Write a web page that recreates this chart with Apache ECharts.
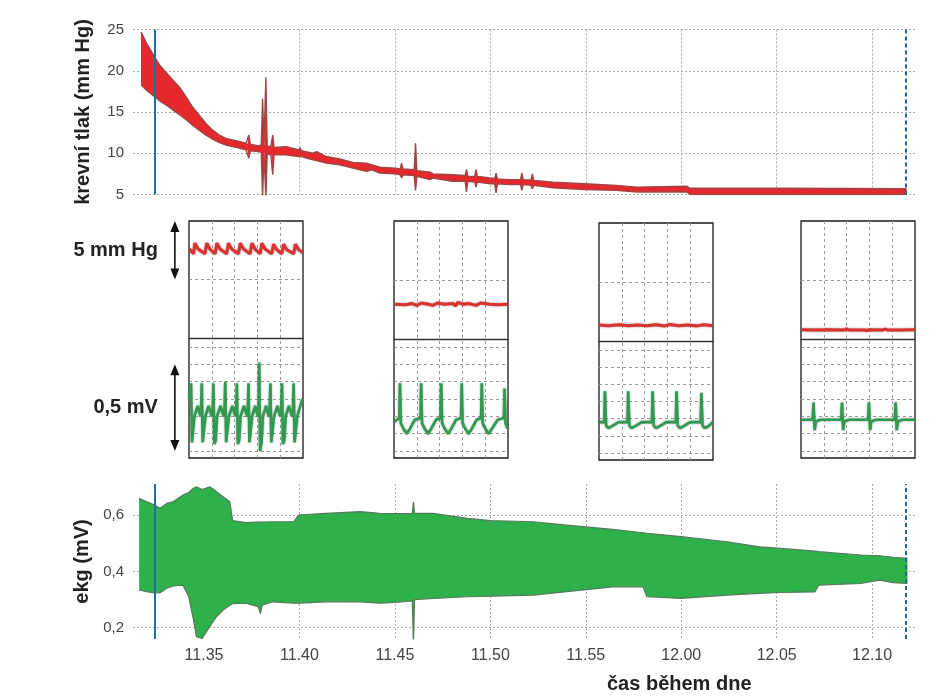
<!DOCTYPE html>
<html><head><meta charset="utf-8">
<script src="https://cdn.jsdelivr.net/npm/echarts@6/dist/echarts.min.js"></script>
<style>html,body{margin:0;padding:0;background:#fff}#c{width:939px;height:696px}</style>
</head><body><div id="c"></div>
<script>
// ---- axis ticks (minutes after 11:00) ----
const timeTicks = [35, 40, 45, 50, 55, 60, 65, 70];
const timeTickLabels = ['11.35', '11.40', '11.45', '11.50', '11.55', '12.00', '12.05', '12.10'];
const timeGridLines = [40, 45, 50, 55, 60, 65, 70];
const ekgTicks = [0.2, 0.4, 0.6];
const markerStart = 32.4;
const markerEnd = 71.75;

// ---- blood pressure envelope (mm Hg) ----
const pressureTime = [31.7,32.0,32.4,32.7,33.05,33.4,33.75,34.1,34.4,34.75,35.1,35.45,35.8,36.15,36.5,36.9,37.2,37.28,37.35,37.42,37.5,37.85,38.0,38.07,38.14,38.17,38.24,38.31,38.5,38.53,38.6,38.67,39.3,39.97,40.03,40.1,40.7,40.9,41.4,42.1,42.8,43.5,43.8,44.2,45.0,45.28,45.35,45.42,46.01,46.08,46.15,46.85,47.0,48.0,48.68,48.75,48.82,49.18,49.25,49.32,50.0,50.23,50.3,50.37,51.0,51.58,51.65,51.72,52.13,52.2,52.27,53.3,54.9,56.6,57.7,60.3,60.45,65.0,71.8];
const pressureLow = [18.3,17.6,16.9,16.3,15.8,15.2,14.6,14.0,13.4,12.8,12.2,11.7,11.3,11.0,10.8,10.6,10.4,10.35,9.4,10.3,10.3,10.2,10.1,4.7,10.0,10.0,4.7,9.9,9.8,9.8,7.4,9.8,9.8,9.6,9.5,9.6,9.2,9.1,8.8,8.6,8.2,7.8,8.0,7.6,7.5,7.4,7.0,7.4,7.3,5.5,7.2,6.8,7.0,6.6,6.6,5.3,6.6,6.5,5.9,6.5,6.3,6.3,5.2,6.3,6.2,6.2,5.5,6.2,6.1,5.7,6.1,5.8,5.6,5.5,5.3,5.3,5.0,5.0,5.0];
const pressureHigh = [24.7,23.3,21.7,20.6,19.7,18.8,17.9,16.7,15.6,14.6,13.6,12.8,12.2,11.8,11.6,11.4,11.2,11.15,12.2,11.1,11.0,10.9,11.0,16.6,11.0,11.0,19.2,10.9,10.8,10.8,12.2,10.7,10.8,10.4,10.7,10.3,10.0,10.2,9.6,9.3,8.9,8.8,8.6,8.3,8.2,8.1,8.8,8.1,8.0,11.2,7.9,7.7,7.5,7.4,7.3,8.0,7.2,7.2,8.0,7.2,7.0,6.95,7.6,6.9,6.8,6.8,7.6,6.8,6.75,7.5,6.7,6.5,6.3,6.1,5.9,6.0,5.75,5.75,5.7];

// ---- ECG envelope (mV) ----
const ekgTime = [31.6,32.0,32.4,32.7,33.05,33.4,33.9,34.2,34.45,34.6,34.9,35.3,35.65,36.0,36.35,36.5,37.2,37.85,37.95,38.05,38.6,39.7,39.95,41.4,43.2,44.2,45.0,45.91,45.97,46.03,47.0,48.8,50.0,52.25,54.0,56.4,58.0,58.2,60.0,62.4,64.1,65.2,67.0,67.2,69.4,70.4,71.1,71.85];
const ekgLow = [0.334,0.328,0.324,0.324,0.34,0.348,0.351,0.31,0.227,0.168,0.162,0.204,0.239,0.263,0.28,0.285,0.287,0.274,0.25,0.28,0.292,0.287,0.287,0.292,0.292,0.287,0.29,0.295,0.139,0.30,0.304,0.31,0.312,0.316,0.328,0.345,0.345,0.31,0.304,0.316,0.322,0.325,0.327,0.351,0.357,0.369,0.36,0.357];
const ekgHigh = [0.659,0.647,0.636,0.624,0.641,0.648,0.671,0.68,0.695,0.70,0.69,0.70,0.683,0.665,0.647,0.58,0.573,0.575,0.575,0.575,0.576,0.576,0.60,0.606,0.612,0.606,0.605,0.605,0.647,0.606,0.606,0.588,0.58,0.576,0.564,0.549,0.537,0.535,0.523,0.505,0.487,0.482,0.472,0.47,0.458,0.455,0.45,0.446];

// ---- insets: [grid column (0..5), value] ----
const insetPressure1 = [[0.02,7.6],[0.2,7.2],[0.26,8.1],[0.4,7.6],[0.7,7.2],[0.78,8.1],[0.92,7.6],[1.15,7.2],[1.22,8.1],[1.36,7.6],[1.65,7.2],[1.73,8.1],[1.87,7.6],[2.17,7.2],[2.25,8.1],[2.39,7.6],[2.68,7.2],[2.76,8.1],[2.9,7.6],[3.12,7.2],[3.2,8.1],[3.34,7.6],[3.63,7.2],[3.71,8.0],[3.85,7.55],[4.07,7.2],[4.15,8.0],[4.29,7.55],[4.59,7.2],[4.67,8.0],[4.81,7.55],[4.98,7.3]];
const insetPressure2 = [[0.05,2.95],[0.5,2.9],[0.8,3.0],[1.0,2.85],[1.2,3.05],[1.5,2.95],[1.7,2.85],[1.9,3.05],[2.2,2.95],[2.6,3.0],[2.7,2.8],[2.8,3.1],[3.0,2.95],[3.3,3.0],[3.6,2.85],[3.8,3.05],[4.2,2.95],[4.6,2.9],[4.98,2.95]];
const insetPressure3 = [[0.02,1.35],[0.4,1.3],[0.9,1.38],[1.3,1.3],[1.7,1.36],[2.1,1.3],[2.5,1.38],[2.9,1.28],[3.1,1.4],[3.5,1.3],[3.9,1.36],[4.3,1.28],[4.6,1.38],[4.98,1.3]];
const insetPressure4 = [[0.02,0.78],[0.6,0.76],[1.2,0.78],[1.9,0.76],[2.0,0.85],[2.1,0.76],[2.8,0.76],[2.9,0.72],[3.0,0.78],[3.6,0.77],[3.7,0.84],[3.8,0.76],[4.4,0.77],[4.98,0.78]];
const insetEkg1 = [[0.0,0.3],[0.05,0.36],[0.09,0.39],[0.13,0.05],[0.18,0.06],[0.24,0.2],[0.38,0.26],[0.5,0.2],[0.53,0.24],[0.56,0.39],[0.6,0.05],[0.66,0.06],[0.72,0.2],[0.86,0.26],[1.0,0.2],[1.04,0.24],[1.07,0.39],[1.11,0.04],[1.17,0.06],[1.23,0.2],[1.38,0.26],[1.52,0.2],[1.56,0.24],[1.59,0.4],[1.63,0.05],[1.69,0.06],[1.75,0.2],[1.9,0.26],[2.04,0.2],[2.07,0.24],[2.1,0.39],[2.14,0.04],[2.2,0.06],[2.26,0.2],[2.41,0.26],[2.55,0.2],[2.58,0.24],[2.61,0.39],[2.65,0.05],[2.71,0.06],[2.77,0.2],[2.9,0.26],[3.02,0.2],[3.05,0.24],[3.08,0.51],[3.12,0.0],[3.18,0.05],[3.24,0.2],[3.38,0.26],[3.5,0.2],[3.54,0.24],[3.57,0.39],[3.61,0.05],[3.67,0.06],[3.73,0.2],[3.88,0.26],[4.0,0.2],[4.05,0.24],[4.08,0.39],[4.12,0.04],[4.18,0.06],[4.24,0.2],[4.38,0.26],[4.52,0.2],[4.56,0.24],[4.59,0.39],[4.63,0.05],[4.69,0.06],[4.75,0.2],[4.88,0.26],[4.98,0.3]];
const insetEkg2 = [[0.02,0.17],[0.23,0.19],[0.26,0.39],[0.3,0.16],[0.41,0.13],[0.56,0.1],[0.71,0.13],[0.91,0.18],[1.16,0.19],[1.19,0.39],[1.23,0.16],[1.34,0.13],[1.49,0.1],[1.64,0.13],[1.84,0.18],[2.04,0.19],[2.07,0.39],[2.11,0.16],[2.22,0.13],[2.37,0.1],[2.52,0.13],[2.72,0.18],[2.94,0.19],[2.97,0.39],[3.01,0.16],[3.12,0.13],[3.27,0.1],[3.42,0.13],[3.62,0.18],[3.82,0.19],[3.85,0.39],[3.89,0.16],[4.0,0.13],[4.15,0.1],[4.3,0.13],[4.55,0.18],[4.82,0.19],[4.85,0.36],[4.89,0.16],[4.98,0.13]];
const insetEkg3 = [[0.02,0.18],[0.23,0.18],[0.26,0.36],[0.31,0.16],[0.41,0.145],[0.61,0.16],[0.86,0.18],[1.25,0.18],[1.28,0.36],[1.33,0.16],[1.43,0.145],[1.63,0.16],[1.88,0.18],[2.32,0.18],[2.35,0.36],[2.4,0.16],[2.5,0.145],[2.7,0.16],[2.95,0.18],[3.37,0.18],[3.4,0.36],[3.45,0.16],[3.55,0.145],[3.75,0.16],[4.0,0.18],[4.46,0.18],[4.49,0.35],[4.54,0.16],[4.64,0.145],[4.84,0.16],[4.98,0.18]];
const insetEkg4 = [[0.0,0.18],[0.51,0.18],[0.55,0.28],[0.6,0.12],[0.65,0.17],[0.85,0.18],[1.76,0.18],[1.8,0.28],[1.85,0.12],[1.9,0.17],[2.1,0.18],[2.94,0.18],[2.98,0.28],[3.03,0.12],[3.08,0.17],[3.3,0.18],[4.11,0.18],[4.15,0.28],[4.2,0.12],[4.25,0.17],[4.45,0.18],[4.98,0.18]];
const insetPressure = [insetPressure1, insetPressure2, insetPressure3, insetPressure4];
const insetEkg = [insetEkg1, insetEkg2, insetEkg3, insetEkg4];

// ---- layout ----
const FONT = '"Liberation Sans", Arial, sans-serif';
const insetBoxes = [
  {left: 189, top: 221, sep: 338, gTop: 347, gBot: 451},
  {left: 394, top: 221, sep: 339, gTop: 347, gBot: 451},
  {left: 599, top: 223, sep: 341, gTop: 350, gBot: 453},
  {left: 801, top: 221, sep: 339, gTop: 347, gBot: 451}
];
const dotted = {color: '#aaa', width: 1, type: [2, 2]};
const dashed = {color: '#9a9a9a', width: 1, type: [3, 3]};
const fmtTime = v => { const i = timeTicks.indexOf(Math.round(v)); return i >= 0 ? timeTickLabels[i] : ''; };
const zip = (a, b) => a.map((v, i) => [v, b[i]]);

// envelope band drawn as one polygon through the axis scales
function bandRenderer(T, L, H, color) {
  return function (params, api) {
    if (params.dataIndex !== 0) return null;
    const pts = [];
    for (let i = 0; i < T.length; i++) pts.push(api.coord([T[i], L[i]]));
    for (let i = T.length - 1; i >= 0; i--) pts.push(api.coord([T[i], H[i]]));
    return {type: 'polygon', shape: {points: pts}, style: {fill: color}};
  };
}

const grids = [
  {left: 133, right: 22, top: 29.5, height: 165},
  {left: 133, right: 22, top: 484, height: 155}
];
const xAxes = [
  {gridIndex: 0, type: 'value', min: 31.28, max: 72.35,
   axisLine: {show: false}, axisTick: {show: false, customValues: timeGridLines},
   axisLabel: {show: false}, splitLine: {show: true, lineStyle: dotted}},
  {gridIndex: 1, type: 'value', min: 31.28, max: 72.35,
   axisLine: {show: false}, axisTick: {show: false, customValues: timeGridLines},
   axisLabel: {customValues: timeTicks, formatter: fmtTime, fontSize: 16, color: '#444', margin: 9, fontFamily: FONT},
   splitLine: {show: true, lineStyle: dotted}}
];
const yAxes = [
  {gridIndex: 0, type: 'value', min: 5, max: 25, interval: 5,
   axisLine: {show: false}, axisTick: {show: false},
   axisLabel: {fontSize: 15, color: '#444', margin: 9, fontFamily: FONT},
   splitLine: {show: true, lineStyle: dotted},
   name: 'krevní tlak (mm Hg)', nameLocation: 'middle', nameGap: 40,
   nameTextStyle: {fontSize: 20, fontWeight: 'bold', color: '#222', fontFamily: FONT}},
  {gridIndex: 1, type: 'value', min: 0.16, max: 0.71,
   axisLine: {show: false}, axisTick: {show: false, customValues: ekgTicks},
   axisLabel: {customValues: ekgTicks, formatter: v => v.toFixed(1).replace('.', ','), fontSize: 15, color: '#444', margin: 9, fontFamily: FONT},
   splitLine: {show: true, lineStyle: dotted},
   name: 'ekg (mV)', nameLocation: 'middle', nameGap: 40,
   nameTextStyle: {fontSize: 20, fontWeight: 'bold', color: '#222', fontFamily: FONT}}
];
const markers = {
  silent: true, symbol: ['none', 'none'], label: {show: false}, animation: false,
  data: [
    {xAxis: markerStart, lineStyle: {color: '#1b6fa2', width: 2, type: 'solid'}},
    {xAxis: markerEnd, lineStyle: {color: '#1e668a', width: 2, type: [4, 3]}}
  ]
};
const series = [
  {type: 'custom', xAxisIndex: 0, yAxisIndex: 0, clip: true,
   data: pressureTime.map((t, i) => [t, pressureLow[i], pressureHigh[i]]),
   encode: {x: 0, y: [1, 2]},
   renderItem: bandRenderer(pressureTime, pressureLow, pressureHigh, '#e5282b'), z: 2},
  {type: 'line', xAxisIndex: 0, yAxisIndex: 0, symbol: 'none', z: 3,
   data: zip(pressureTime, pressureLow), lineStyle: {color: '#a04545', width: 1.4}},
  {type: 'line', xAxisIndex: 0, yAxisIndex: 0, symbol: 'none', z: 3,
   data: zip(pressureTime, pressureHigh), lineStyle: {color: '#a04545', width: 1.4}, markLine: markers},
  {type: 'custom', xAxisIndex: 1, yAxisIndex: 1, clip: true,
   data: ekgTime.map((t, i) => [t, ekgLow[i], ekgHigh[i]]),
   encode: {x: 0, y: [1, 2]},
   renderItem: bandRenderer(ekgTime, ekgLow, ekgHigh, '#2eb14b'), z: 2},
  {type: 'line', xAxisIndex: 1, yAxisIndex: 1, symbol: 'none', z: 3,
   data: zip(ekgTime, ekgLow), lineStyle: {color: '#56795b', width: 1.2}},
  {type: 'line', xAxisIndex: 1, yAxisIndex: 1, symbol: 'none', z: 3,
   data: zip(ekgTime, ekgHigh), lineStyle: {color: '#56795b', width: 1.2}, markLine: markers}
];

insetBoxes.forEach((b, i) => {
  const g0 = grids.length;
  grids.push({left: b.left, top: b.top, width: 114, height: 237, show: true, borderColor: '#1a1a1a', borderWidth: 1.3, backgroundColor: 'rgba(0,0,0,0)'});
  grids.push({left: b.left, top: b.top, width: 114, height: b.sep - b.top});
  grids.push({left: b.left, top: b.gTop, width: 114, height: b.gBot - b.gTop});
  xAxes.push({gridIndex: g0, type: 'value', min: 0, max: 5, interval: 1,
    axisLine: {show: false}, axisTick: {show: false}, axisLabel: {show: false},
    splitLine: {show: true, showMinLine: false, showMaxLine: false, lineStyle: dashed}});
  yAxes.push({gridIndex: g0, type: 'value', min: 0, max: 1, show: false});
  xAxes.push({gridIndex: g0 + 1, type: 'value', min: 0, max: 5,
    axisLine: {show: true, onZero: false, lineStyle: {color: '#333', width: 1.3}},
    axisTick: {show: false}, axisLabel: {show: false}, splitLine: {show: false}});
  yAxes.push({gridIndex: g0 + 1, type: 'value', min: 0, max: 10, interval: 5,
    axisLine: {show: false}, axisTick: {show: false}, axisLabel: {show: false},
    splitLine: {show: true, showMinLine: false, showMaxLine: false, lineStyle: dashed}});
  xAxes.push({gridIndex: g0 + 2, type: 'value', min: 0, max: 5, show: false});
  yAxes.push({gridIndex: g0 + 2, type: 'value', min: 0, max: 0.6, interval: 0.1,
    axisLine: {show: false}, axisTick: {show: false}, axisLabel: {show: false},
    splitLine: {show: true, lineStyle: dashed}});
  series.push({type: 'line', xAxisIndex: g0 + 1, yAxisIndex: g0 + 1, symbol: 'none', clip: false,
    data: insetPressure[i], lineStyle: {color: '#d8332f', width: 3, shadowBlur: 2, shadowColor: 'rgba(120,30,30,0.6)'}});
  series.push({type: 'line', xAxisIndex: g0 + 2, yAxisIndex: g0 + 2, symbol: 'none', clip: false,
    data: insetEkg[i], lineStyle: {color: '#2f9a50', width: 2.6, shadowBlur: 2, shadowColor: 'rgba(40,80,50,0.6)'}});
});

const chart = echarts.init(document.getElementById('c'), null, {renderer: 'canvas'});
chart.setOption({
  animation: false,
  backgroundColor: '#fff',
  textStyle: {fontFamily: FONT},
  title: {text: 'čas během dne', left: 607, top: 674, padding: 0,
    textStyle: {fontSize: 20, fontWeight: 'bold', color: '#222', fontFamily: FONT}},
  grid: grids, xAxis: xAxes, yAxis: yAxes, series: series
});

// scale-bar arrows for the first inset, placed through the inset axes
const arrowX = -0.62;
const pA = chart.convertToPixel({gridIndex: 3}, [arrowX, 10]);
const pB = chart.convertToPixel({gridIndex: 3}, [arrowX, 5]);
const eA = chart.convertToPixel({gridIndex: 4}, [arrowX, 0.5]);
const eB = chart.convertToPixel({gridIndex: 4}, [arrowX, 0]);
function arrow(top, bot) {
  const x = top[0];
  return [
    {type: 'line', shape: {x1: x, y1: top[1] + 6, x2: x, y2: bot[1] - 6}, style: {stroke: '#111', lineWidth: 1.6}},
    {type: 'polygon', shape: {points: [[x, top[1]], [x - 4.5, top[1] + 11], [x + 4.5, top[1] + 11]]}, style: {fill: '#111'}},
    {type: 'polygon', shape: {points: [[x, bot[1]], [x - 4.5, bot[1] - 11], [x + 4.5, bot[1] - 11]]}, style: {fill: '#111'}}
  ];
}
function label(top, bot, text) {
  return {type: 'text', x: top[0] - 17, y: (top[1] + bot[1]) / 2,
    style: {text: text, fill: '#222', font: 'bold 20px ' + FONT, textAlign: 'right', textVerticalAlign: 'middle'}};
}
chart.setOption({
  graphic: [].concat(arrow(pA, pB), arrow(eA, eB), [label(pA, pB, '5 mm Hg'), label(eA, eB, '0,5 mV')])
});
</script></body></html>
